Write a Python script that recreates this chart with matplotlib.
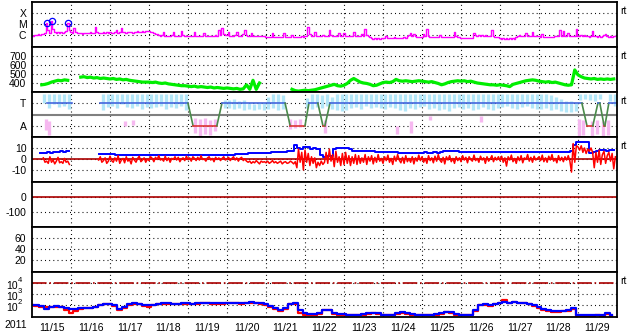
import numpy as np
import matplotlib
matplotlib.use('Agg')
import matplotlib.pyplot as plt
from matplotlib.ticker import NullLocator
from matplotlib.transforms import blended_transform_factory, offset_copy

plt.rcParams['font.family'] = ['Liberation Sans', 'DejaVu Sans']
plt.rcParams['font.size'] = 7.5
plt.rcParams['lines.scale_dashes'] = False

nan = np.nan

# dates (one label per day, time axis in days from 11/15 00:00)
day_labels = ['11/15', '11/16', '11/17', '11/18', '11/19', '11/20', '11/21', '11/22',
              '11/23', '11/24', '11/25', '11/26', '11/27', '11/28', '11/29']
year_label = '2011'

# X-ray flux, log10 W/m2, hourly
xray_log = [
    -6.05, -6.05, -6.0, -6.0, -5.95, -6.0, -5.95, -5.9, -5.85, -4.9, -5.55, -5.8, -4.75, -5.45, -5.7, -5.8, -5.75, -5.85, -5.75, -5.8, -5.7, -5.6, -4.9, -5.5,
    -5.7, -5.8, -5.35, -5.75, -5.85, -5.85, -5.8, -5.9, -5.85, -5.8, -5.85, -5.8, -5.75, -5.85, -5.8, -5.3, -5.7, -5.8, -5.85, -5.8, -5.75, -5.8, -5.75, -5.8,
    -5.75, -5.8, -5.8, -5.75, -5.55, -5.8, -5.75, -5.4, -5.7, -5.75, -5.8, -5.75, -5.7, -5.75, -5.8, -5.75, -5.7, -5.65, -5.7, -5.7, -5.65, -5.7, -5.6, -5.65,
    -5.65, -5.7, -5.75, -5.8, -5.9, -5.95, -6.0, -6.05, -6.0, -5.75, -6.05, -6.1, -6.05, -6.1, -6.0, -5.7, -6.05, -6.1, -6.05, -6.1, -5.65, -6.0, -6.05, -6.1,
    -6.05, -6.1, -6.05, -6.1, -5.75, -6.05, -6.1, -6.05, -6.1, -6.05, -5.8, -6.05, -6.1, -6.05, -6.1, -6.05, -6.1, -6.0, -6.05, -5.5, -6.0, -5.4, -5.9, -6.0,
    -6.0, -5.75, -6.05, -6.1, -6.05, -6.0, -5.75, -6.05, -6.1, -6.05, -5.95, -5.55, -6.0, -6.05, -6.1, -5.85, -6.05, -6.1, -6.05, -6.1, -6.05, -6.1, -6.05, -6.1,
    -6.15, -6.2, -6.15, -6.2, -5.85, -6.15, -6.2, -6.15, -6.2, -6.15, -6.2, -5.8, -6.15, -6.2, -6.15, -6.2, -6.0, -6.15, -6.2, -6.15, -6.2, -6.15, -6.1, -6.15,
    -6.1, -6.05, -5.3, -5.9, -6.05, -6.1, -5.75, -6.05, -6.1, -6.05, -6.1, -6.0, -6.05, -6.1, -6.05, -5.55, -6.0, -6.05, -6.1, -6.05, -6.1, -5.8, -6.05, -6.1,
    -5.8, -6.05, -6.1, -6.05, -6.1, -6.05, -5.75, -6.05, -6.1, -6.05, -6.1, -5.95, -6.05, -5.45, -6.0, -6.1, -6.2, -6.3, -6.35, -6.3, -6.35, -6.3, -6.35, -6.3,
    -6.25, -6.3, -6.1, -6.25, -6.3, -6.25, -6.3, -6.15, -6.25, -6.3, -6.25, -6.3, -6.25, -6.2, -6.25, -6.1, -6.0, -5.85, -6.05, -5.9, -6.1, -6.15, -6.2, -6.15,
    -6.15, -5.95, -6.1, -5.45, -6.05, -6.15, -6.2, -6.15, -6.2, -6.15, -6.2, -6.0, -6.15, -6.2, -6.15, -6.2, -6.15, -6.2, -6.15, -6.2, -5.7, -6.1, -6.15, -6.2,
    -6.25, -6.3, -6.25, -6.3, -6.25, -6.3, -6.25, -6.3, -5.85, -6.0, -6.05, -6.0, -6.05, -6.0, -6.05, -6.0, -6.05, -6.1, -6.05, -5.55, -6.1, -6.15, -6.2, -6.2,
    -6.3, -6.35, -6.3, -6.35, -6.3, -6.35, -6.3, -6.35, -6.3, -6.35, -6.15, -6.05, -6.0, -6.05, -6.1, -6.05, -5.85, -6.05, -6.1, -6.05, -5.7, -6.05, -6.1, -6.05,
    -6.1, -6.15, -5.9, -6.15, -6.2, -6.15, -6.2, -6.15, -6.2, -6.15, -6.1, -6.05, -6.1, -5.55, -6.05, -5.65, -6.05, -6.1, -5.8, -6.05, -6.1, -6.05, -6.1, -5.45,
    -6.1, -6.05, -6.0, -6.05, -6.0, -6.05, -6.1, -6.15, -6.1, -5.65, -6.05, -6.1, -6.15, -6.1, -6.15, -6.1, -6.0, -5.9, -6.1, -6.15, -6.1, -6.15, -6.1, -6.1,
]
flare_t = [0.38, 0.51, 0.92]
flare_log = [-4.91, -4.73, -4.91]

# solar wind speed km/s, 2-hourly
speed = [
    nan, nan, nan, 380, 385, 395, 410, 420, 430, 425, 435, 430,
    nan, nan, nan, 465, 470, 460, 465, 455, 460, 450, 455, 450,
    445, 450, 440, 445, 435, 440, 430, 425, 420, 415, 410, 410,
    410, 405, 410, 400, 395, 400, 390, 385, 380, 375, 370, 370,
    365, 360, 365, 355, 360, 355, 350, 355, 345, 350, 345, 340,
    345, 340, 335, 340, 330, 335, 380, 330, 430, 330, 400, nan,
    nan, nan, nan, nan, nan, nan, nan, nan, 330, 315, 310, 315,
    320, 315, 320, 325, 335, 345, 355, 365, 375, 385, 370, 365,
    375, 395, 430, 450, 430, 410, 400, 395, 385, 370, 375, 390,
    405, 410, 405, 415, 440, 425, 420, 425, 420, 415, 420, 425,
    420, 415, 410, 415, 405, 395, 380, 390, 405, 415, 420, 425,
    420, 425, 415, 420, 410, 400, 395, 390, 385, 380, 380, 375,
    380, 375, 370, 360, 385, 395, 405, 415, 425, 430, 435, 430,
    420, 415, 410, 415, 405, 410, 400, 390, 380, 375, 380, 545,
    490, 470, 455, 450, 445, 450, 440, 445, 440, 445, 440, 445,
]

# IMF sector samples (toward spread upper half, 3-hourly)
toward_hi = [
    nan, nan, 1.8, 1.8, 1.8, 1.8, 1.8, 1.8,
    nan, nan, nan, nan, nan, nan, 1.8, 1.8,
    1.8, 1.8, 1.8, 1.8, 1.8, 1.8, 1.8, 1.8,
    1.8, 1.8, 1.8, 1.8, 1.8, 1.8, 1.8, 1.8,
    nan, nan, nan, nan, nan, nan, nan, 1.3,
    1.3, 1.4, 1.2, 1.3, 1.0, 0.9, 1.0, 1.0,
    1.6, 1.8, 1.8, 1.7, nan, nan, nan, nan,
    1.5, 1.8, 1.8, 1.7, 1.8, 1.6, 1.8, 1.8,
    1.8, 1.8, 1.8, 1.8, 1.8, 1.8, 1.8, 1.8,
    1.8, 1.8, 1.8, 1.8, 1.8, 1.8, 1.8, 1.8,
    1.8, 1.8, 1.8, 1.8, 1.8, 1.8, 1.8, 1.8,
    1.8, 1.8, 1.8, 1.8, 1.8, 1.8, 1.8, 1.8,
    1.8, 1.8, 1.8, 1.8, 1.8, 1.8, 1.8, 1.8,
    1.8, 1.8, 1.7, 1.6, 1.4, 1.2, 1.2, 1.0,
    1.8, 1.8, 1.8, 1.8, 1.8, nan, 1.8, 1.8,
]
toward_lo = [
    nan, nan, 1.0, 0.6, 0.9, 0.7, 0.8, 0.5,
    nan, nan, nan, nan, nan, nan, 0.4, 0.7,
    0.8, 0.6, 0.9, 0.7, 0.6, 0.8, 0.5, 0.7,
    0.6, 0.7, 0.8, 0.5, 0.7, 0.6, 0.8, 0.4,
    nan, nan, nan, nan, nan, nan, nan, 0.6,
    0.6, 0.5, 0.6, 0.4, 0.5, 0.4, 0.5, 0.4,
    0.5, 0.6, 0.4, 0.5, nan, nan, nan, nan,
    0.6, 0.5, 0.7, 0.6, 0.8, 0.5, 0.4, 0.3,
    0.4, 0.6, 0.7, 0.5, 0.8, 0.6, 0.7, 0.6,
    0.5, 0.7, 0.6, 0.4, 0.3, 0.6, 0.5, 0.7,
    0.8, 0.5, 0.6, 0.4, 0.5, 0.3, 0.6, 0.7,
    0.5, 0.6, 0.4, 0.5, 0.7, 0.5, 0.4, 0.6,
    0.7, 0.8, 0.6, 0.5, 0.7, 0.8, 0.6, 0.5,
    0.5, 0.6, 0.4, 0.5, 0.3, 0.2, 0.2, 0.3,
    1.3, 1.4, 1.3, 1.2, 1.4, nan, 1.2, 0.8,
]
away_t = [0.36, 0.44, 2.38, 2.59, 4.18, 4.31, 4.44, 4.56, 4.69, 6.62, 6.74, 6.87,
          7.51, 9.36, 9.72, 10.2, 11.51, 14.03, 14.13, 14.36, 14.49, 14.64, 14.77]
away_hi = [-0.4, -0.6, -0.6, -0.5, -0.3, -0.4, -0.3, -0.5, -0.4, -0.4, -0.5, -0.4,
           -0.5, -1.0, -0.6, -0.1, -0.1, -0.4, -0.5, -0.6, -0.5, -0.6, -0.5]
away_lo = [-1.4, -1.8, -1.0, -0.9, -1.6, -1.9, -1.7, -1.8, -1.5, -1.3, -1.2, -1.1,
           -1.6, -1.7, -1.6, -0.5, -0.7, -1.9, -1.8, -1.9, -1.7, -1.9, -1.8]

# sector polarity line (T=+1, A=-1)
pol_t = [0.385, 1.03, nan, 1.74, 4.0, 4.13, 4.74, 4.87, 6.49, 6.62, 7.0, 7.1, 7.33, 7.46,
         7.51, 7.64, 14.1, 14.23, 14.38, 14.51, 14.56, 14.67, 14.69, 14.79, 15.0]
pol_v = [1, 1, nan, 1, 1, -1, -1, 1, 1, -1, -1, 1, 1, -1,
         -1, 1, 1, -1, -1, 1, 1, -1, -1, 1, 1]

# IMF Bt (2-hourly) and Bz (hourly), nT
bt = [
    nan, nan, nan, 5.5, 5.0, 6.0, 5.5, 6.5, 6.0, 7.0, 6.5, 7.0,
    nan, nan, nan, nan, nan, nan, nan, nan, nan, 4.5, 4.5, 4.5,
    4.5, 4.5, 4.0, 4.0, 4.0, 3.8, 3.8, 3.6, 3.6, 3.6, 3.5, 3.5,
    3.5, 3.6, 3.6, 3.6, 3.5, 3.6, 3.6, 3.6, 3.5, 3.5, 3.6, 3.6,
    3.6, 3.6, 3.6, 3.5, 3.6, 3.6, 3.6, 3.6, 3.6, 3.8, 3.8, 3.8,
    4.0, 4.0, 4.0, 4.2, 4.2, 4.5, 4.5, 5.0, 5.0, 5.5, 5.5, 5.5,
    5.5, 5.5, 6.0, 6.0, 6.0, 6.5, 6.5, 7.0, 7.0, 12.5, 10.0, 9.0,
    10.5, 11.0, 9.5, 10.0, 9.0, 4.0, 2.0, 2.5, 3.0, 9.5, 10.0, 10.0,
    10.0, 10.0, 9.5, 7.5, 7.0, 7.0, 7.0, 7.5, 7.0, 7.0, 6.5, 6.5,
    6.5, 6.5, 6.0, 6.5, 6.0, 5.5, 5.5, 5.5, 5.5, 5.0, 5.5, 5.5,
    5.5, 6.0, 5.5, 5.5, 6.0, 5.5, 6.0, 7.0, 7.5, 7.0, 7.5, 7.0,
    6.5, 6.0, 6.0, 6.5, 6.0, 6.0, 6.5, 6.0, 6.0, 6.5, 6.0, 6.0,
    6.0, 6.5, 6.0, 6.0, 6.5, 6.0, 6.0, 6.5, 6.0, 6.0, 6.5, 6.0,
    6.0, 6.0, 6.5, 6.0, 6.0, 6.5, 6.0, 6.0, 6.0, 6.5, 7.0, 13.0,
    15.5, 15.0, 15.5, 15.0, 5.5, 6.0, 7.5, 8.0, 8.0, 7.5, 8.0, 8.0,
]
bz = [
    nan, nan, nan, nan, nan, nan, nan, 1.0, -3.0, -2.0, -4.0, 2.0, -3.0, -1.0, -4.5, -2.0, 1.5, -3.5, -2.5, -4.0, 0.5, -3.0, -2.0, -5.0,
    nan, nan, nan, nan, nan, nan, nan, nan, nan, nan, nan, nan, nan, nan, nan, nan, nan, -1.0, 2.0, -3.0, -1.5, 1.0, -4.0, -2.0,
    2.5, -1.5, -3.0, 1.0, -2.0, 3.0, -4.0, -1.0, 0.5, -3.5, 2.0, -2.0, -0.5, -4.5, 1.5, -1.0, -3.0, 0.5, 2.5, -2.5, -1.0, 1.0, -3.0, 0.0,
    -1.5, 2.0, 0.5, -2.5, 1.5, -0.5, 3.0, -1.0, 0.0, -2.0, 2.5, -1.5, 1.0, -3.0, 0.5, -0.5, 2.0, -1.0, 1.5, -2.5, 0.0, 1.0, -1.5, 2.5,
    -0.5, 1.0, -2.0, 2.0, 0.5, -1.5, 1.5, -1.0, 3.0, -0.5, 0.0, -2.0, 1.0, 2.0, -1.0, 0.5, -2.5, 1.5, -0.5, 1.0, -1.5, 0.5, 2.0, -1.0,
    0.0, 1.5, -1.5, 0.5, 2.0, -1.0, 1.0, -2.0, 0.5, 1.5, -1.5, 0.0, -2.0, -3.0, -2.0, -4.0, -2.5, -3.5, -1.5, -3.0, -4.5, -2.0, -3.0, -2.5,
    -3.5, -2.0, -4.0, -3.0, -1.5, -3.5, -2.5, -4.0, -3.0, -2.0, -4.5, -3.0, -2.5, -4.0, -3.5, -2.0, -3.0, -4.5, -2.5, -8.0, 9.0, -3.0, 6.0, -10.0,
    8.0, -3.0, 5.0, -6.0, 2.0, -4.0, 1.0, -8.0, -3.0, -6.0, -2.0, -5.0, -3.0, 6.0, -4.0, 9.0, -2.0, 4.0, -7.0, 7.0, -3.0, 2.0, -6.0, 5.0,
    -5.0, 6.0, -4.0, 3.0, -6.0, 2.0, -4.0, 4.0, -5.0, 3.0, -4.0, 1.0, -3.0, 4.0, -5.0, 2.0, -2.0, 3.0, -4.5, 1.5, -3.0, 4.0, -2.0, 0.5,
    -4.0, 2.0, -1.5, 3.5, -3.0, 0.5, -5.0, 2.5, -2.0, 4.0, -1.0, -3.5, 1.5, -4.0, 3.0, -2.5, 0.5, -3.0, 2.0, -4.5, 1.0, -2.0, 3.5, -1.5,
    2.0, -3.0, 0.5, -4.0, 3.0, -1.5, 1.0, -3.5, 2.5, -2.0, 4.0, -1.0, -3.0, 1.5, -4.5, 2.0, -1.0, 3.0, -2.5, 0.5, -4.0, 2.0, -1.5, 1.0,
    -2.5, 3.0, -1.0, 1.5, -3.5, 2.0, -0.5, -2.0, 3.5, -1.5, 0.5, -3.0, 2.5, -1.0, 1.0, -4.0, 2.0, -2.0, 0.0, 3.0, -2.5, 1.5, -1.0, 2.0,
    -1.5, 2.5, -3.0, 1.0, -6.5, 2.0, -1.0, 3.5, -2.5, 0.5, -4.0, 2.0, -1.5, 3.0, -3.5, 1.0, -0.5, 4.0, -2.0, 1.5, -3.0, 2.5, -1.0, 0.5,
    2.0, -1.5, 3.5, -2.5, 1.0, -3.0, 2.5, -1.0, 4.0, -2.0, 0.5, -3.5, 3.0, -1.5, 1.5, -2.5, 2.0, -1.0, 3.0, -2.0, -12.0, 14.0, -3.0, 12.0,
    11.0, 8.0, 12.0, 6.0, 10.0, 5.0, 9.0, 7.0, 10.0, 6.0, -8.0, 6.0, -3.0, 8.0, -5.0, 4.0, 7.0, -4.0, 3.0, 6.0, -2.0, 5.0, -9.0, 2.0,
]

# electron flux, log10, 3-hourly (two satellites)
elec_blue = [
    2.0, 1.95, 1.9, 1.6, 1.85, 1.9, 1.85, 1.75,
    1.6, 1.65, 1.7, 1.75, 1.75, 1.85, 2.0, 2.1,
    2.1, 2.0, 1.65, 1.8, 2.05, 2.15, 2.1, 1.95,
    1.95, 2.0, 2.1, 2.15, 2.15, 2.1, 2.1, 2.15,
    2.15, 2.1, 2.15, 2.2, 2.2, 2.15, 2.15, 2.15,
    2.2, 2.2, 2.2, 2.15, 2.2, 2.25, 2.2, 2.15,
    2.1, 1.9, 1.75, 1.55, 1.7, 2.1, 2.2, 1.5,
    1.25, 1.2, 1.2, 1.3, 1.5, 1.55, 1.3, 1.2,
    1.15, 1.1, 1.1, 1.1, 1.15, 1.25, 1.3, 1.25,
    1.1, 1.1, 1.1, 1.3, 1.4, 1.3, 1.15, 1.1,
    1.1, 1.1, 1.1, 1.15, 1.3, 1.4, 1.35, 1.15,
    1.1, 1.1, 1.1, 1.5, 2.0, 2.05, 1.95, 2.1,
    2.2, 2.25, 2.2, 2.25, 2.2, 2.2, 2.1, 1.95,
    1.8, 1.6, 1.5, 1.45, 1.45, 1.45, 1.5, 1.75,
    1.1, 1.05, 1.05, 1.05, 1.1, 1.05, 1.3, 1.05,
]
elec_red = [
    1.95, 1.9, 1.85, 1.8, 1.8, 1.85, 1.8, 1.5,
    1.25, 1.45, 1.6, 1.7, 1.75, 1.8, 1.95, 2.05,
    2.05, 1.9, 1.5, 1.7, 2.0, 2.1, 2.05, 1.9,
    1.85, 1.95, 2.05, 2.1, 2.1, 2.05, 2.05, 2.1,
    2.1, 2.05, 2.1, 2.15, 2.15, 2.1, 2.1, 2.1,
    2.15, 2.15, 2.15, 2.1, 2.15, 2.2, 2.15, 2.1,
    2.0, 1.8, 1.6, 1.45, 1.6, 2.05, 2.1, 1.3,
    1.05, 1.1, 1.1, 1.2, 1.5, 1.5, 1.2, 1.1,
    1.1, 1.05, 1.05, 1.05, 1.1, 1.2, 1.25, 1.15,
    1.05, 1.05, 1.1, 1.2, 1.3, 1.2, 1.1, 1.05,
    1.05, 1.05, 1.05, 1.1, 1.2, 1.35, 1.3, 1.1,
    1.05, 1.05, 1.05, 1.45, 1.95, 2.0, 1.9, 2.05,
    2.2, 2.45, 2.2, 2.25, 2.15, 2.15, 2.05, 1.9,
    1.75, 1.55, 1.45, 1.4, 1.4, 1.45, 1.45, 1.6,
    0.95, 1.0, 1.0, 1.0, 1.05, 1.0, 1.2, 1.0,
]
elec_alert = 1e4
elec_ticks = [4, 3, 2]

W, H = 633, 334
fig = plt.figure(figsize=(W / 100, H / 100), dpi=100)

panels_px = [(2, 47), (47, 92), (92, 137), (137, 182), (182, 227), (227, 272), (272, 317)]
dot_style = (0, (0.7, 2.3))
axes = []
for top, bot in panels_px:
    ax = fig.add_axes([32 / W, 1 - bot / H, 585 / W, (bot - top) / H])
    ax.set_xlim(0, 15)
    ax.set_xticks(range(1, 15))
    ax.set_xticklabels([])
    ax.tick_params(length=0, pad=4)
    ax.grid(True, color='black', linestyle=dot_style, linewidth=0.8)
    for s in ax.spines.values():
        s.set_linewidth(1.3)
    axes.append(ax)

def rt(ax):
    ax.text(1.006, 0.8, 'rt', transform=ax.transAxes, ha='left', va='center')

# X-ray
ax = axes[0]
t1 = np.arange(len(xray_log)) / 24
ax.set_yscale('log')
ax.plot(t1, 10 ** np.array(xray_log), color='#ff00ff', lw=1.0, drawstyle='steps-mid')
ax.plot(flare_t, 10 ** np.array(flare_log), 'o', ms=4.5, mfc='none', mec='#0000ff', mew=0.9)
ax.set_ylim(10 ** -7.09, 1e-3)
ax.set_yticks([1e-4, 1e-5, 1e-6])
ax.set_yticklabels(['X', 'M', 'C'])
ax.yaxis.set_minor_locator(NullLocator())
rt(ax)

# solar wind speed
ax = axes[1]
t2 = np.arange(len(speed)) / 12
ax.plot(t2, speed, color='#00ee00', lw=2.3)
ax.set_ylim(300, 800)
ax.set_yticks([400, 500, 600, 700])
rt(ax)

# sector
ax = axes[2]
t3 = np.arange(len(toward_hi)) / 8 + 1 / 16
ax.vlines(t3, toward_lo, toward_hi, color='#b2e6f8', lw=2.4)
ax.vlines(away_t, away_lo, away_hi, color='#f6b8f0', lw=2.4)
ax.axhline(0, color='#808080', lw=1.5)
for i in range(len(pol_t) - 1):
    if np.isnan(pol_v[i]) or np.isnan(pol_v[i + 1]):
        continue
    if pol_v[i] == 1 and pol_v[i + 1] == 1:
        c = '#4466dd'
    elif pol_v[i] == -1 and pol_v[i + 1] == -1:
        c = '#dd3333'
    else:
        c = '#4a8a4a'
    ax.plot(pol_t[i:i + 2], pol_v[i:i + 2], color=c, lw=1.2)
ax.set_ylim(-2, 2)
ax.set_yticks([1, -1])
ax.set_yticklabels(['T', 'A'])
rt(ax)

# IMF
ax = axes[3]
ax.axhline(0, color='#aa0000', lw=1.2)
ax.plot(t2, bt, color='#0000ff', lw=1.4, drawstyle='steps-mid')
ax.plot(t1, bz, color='#ff0000', lw=1.1)
ax.set_ylim(-21, 20)
ax.set_yticks([10, 0, -10])
ax.set_yticklabels(['10', '0', '-10'])
rt(ax)

# Dst
ax = axes[4]
ax.axhline(0, color='#aa0000', lw=1.2)
ax.set_ylim(-200, 100)
ax.set_yticks([0, -100])
ax.set_yticklabels(['0', '-100'])

# Kp-like panel
ax = axes[5]
ax.set_ylim(-2, 80)
ax.set_yticks([20, 40, 60])

# electrons
ax = axes[6]
ax.set_yscale('log')
te = np.arange(len(elec_red)) / 8
ax.plot(te, 10 ** np.array(elec_red), color='#ff0000', lw=1.6, drawstyle='steps-mid')
ax.plot(te, 10 ** np.array(elec_blue), color='#0000ff', lw=1.6, drawstyle='steps-mid')
ax.axhline(elec_alert, color='#aa0000', lw=1.2, linestyle=(0, (10.5, 2, 1.2, 2)))
ax.set_ylim(10 ** 0.9, 1e5)
ax.set_yticks([10.0 ** e for e in elec_ticks])
ax.set_yticklabels([])
ax.yaxis.set_minor_locator(NullLocator())
tr = blended_transform_factory(fig.transFigure, ax.transData)
for e in elec_ticks:
    ax.text(17.5 / W, 10.0 ** e, '10', transform=offset_copy(tr, fig=fig, y=-3, units='dots'),
            ha='right', va='center', clip_on=False)
    ax.text(17.8 / W, 10.0 ** e, str(e), transform=offset_copy(tr, fig=fig, y=2, units='dots'),
            ha='left', va='center', fontsize=5.5, clip_on=False)
ax.set_xticks(np.arange(15) + 0.5, minor=True)
ax.set_xticklabels(day_labels, minor=True)
ax.tick_params(which='both', length=0, pad=4)
rt(ax)

fig.text(16 / W, 1 - 325 / H, year_label, ha='center', va='center')

fig.savefig('out.png', dpi=100)
